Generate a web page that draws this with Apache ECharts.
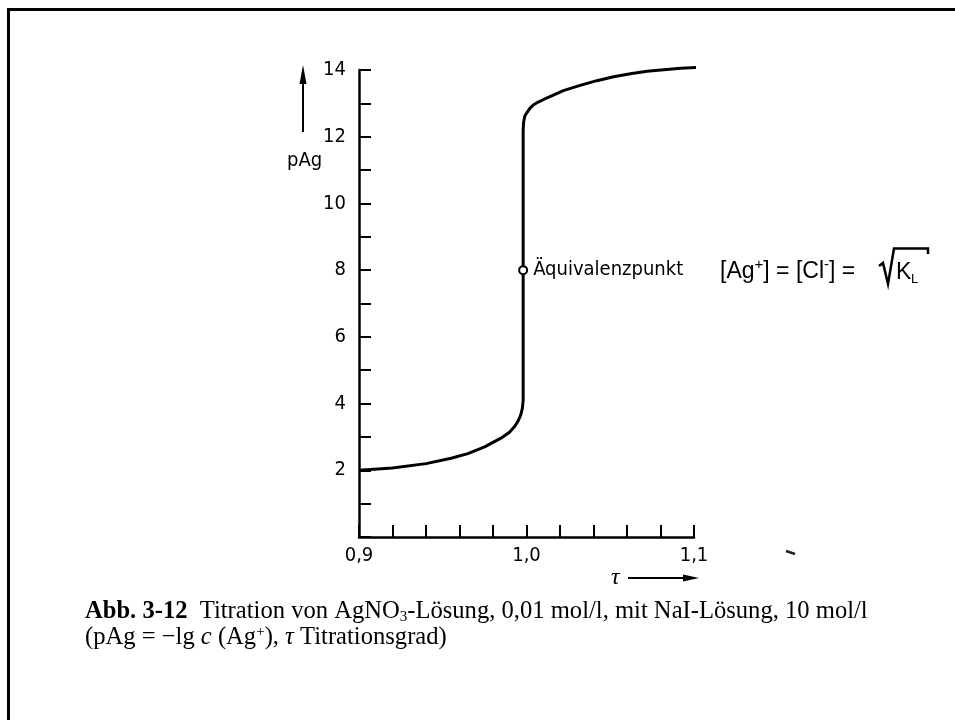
<!DOCTYPE html>
<html>
<head>
<meta charset="utf-8">
<script src="https://cdn.jsdelivr.net/npm/echarts@6/dist/echarts.min.js"></script>
<style>
html, body { margin: 0; padding: 0; background: #fff; }
#chart { width: 955px; height: 720px; }
</style>
</head>
<body>
<div id="chart"></div>
<script>
// Titrationskurve
var tau = [0.900, 0.920, 0.940, 0.955, 0.965, 0.975, 0.985, 0.990, 0.993, 0.995, 0.9965, 0.9975, 0.998,
  0.998, 0.9983, 0.999, 1.0005, 1.002, 1.004, 1.007, 1.012, 1.022, 1.032, 1.042, 1.052, 1.062, 1.072, 1.082, 1.092, 1.108];
var pAg = [2.00, 2.07, 2.20, 2.36, 2.50, 2.70, 2.97, 3.15, 3.32, 3.48, 3.65, 3.85, 4.10,
  12.20, 12.45, 12.62, 12.74, 12.85, 12.95, 13.04, 13.16, 13.38, 13.54, 13.68, 13.80, 13.89, 13.96, 14.01, 14.05, 14.09];

var eqTau = [0.998];
var eqPAg = [8];
var eqName = 'Äquivalenzpunkt';

var xLabelValues = [0.9, 1.0, 1.1];
var xLabelTexts = ['0,9', '1,0', '1,1'];
var yLabelValues = [2, 4, 6, 8, 10, 12, 14];

var scanFont = "'DejaVu Sans Condensed', 'DejaVu Sans', sans-serif";
var ink = '#000';

var myChart = echarts.init(document.getElementById('chart'));

var option = {
  backgroundColor: '#fff',
  animation: false,
  grid: {
    left: 359,
    right: 261,
    top: 70,
    bottom: 183
  },
  xAxis: {
    type: 'value',
    min: 0.9,
    max: 1.1,
    interval: 0.02,
    splitLine: { show: false },
    axisLine: { lineStyle: { color: ink, width: 2.5 } },
    axisTick: { inside: true, length: 12, lineStyle: { color: ink, width: 2 } },
    axisLabel: {
      margin: 9,
      color: ink,
      fontFamily: scanFont,
      fontSize: 20,
      formatter: function (v) {
        for (var i = 0; i < xLabelValues.length; i++) {
          if (Math.abs(v - xLabelValues[i]) < 1e-6) return xLabelTexts[i];
        }
        return '';
      }
    }
  },
  yAxis: {
    type: 'value',
    min: 0,
    max: 14,
    interval: 1,
    splitLine: { show: false },
    axisLine: { lineStyle: { color: ink, width: 2.5 } },
    axisTick: { inside: true, length: 12, lineStyle: { color: ink, width: 2 } },
    axisLabel: {
      margin: 13,
      color: ink,
      fontFamily: scanFont,
      fontSize: 20,
      formatter: function (v) {
        return yLabelValues.indexOf(Math.round(v)) >= 0 ? String(Math.round(v)) : '';
      }
    }
  },
  series: [
    {
      type: 'line',
      data: tau.map(function (t, i) { return [t, pAg[i]]; }),
      symbol: 'none',
      clip: false,
      lineStyle: { color: ink, width: 3 }
    },
    {
      type: 'scatter',
      data: eqTau.map(function (t, i) { return [t, eqPAg[i]]; }),
      symbol: 'circle',
      symbolSize: 8,
      z: 5,
      itemStyle: { color: '#fff', borderColor: ink, borderWidth: 2, opacity: 1 },
      label: {
        show: true,
        position: 'right',
        distance: 5,
        formatter: eqName,
        color: ink,
        fontFamily: scanFont,
        fontSize: 20
      }
    }
  ],
  graphic: [
    // Rahmen
    { type: 'line', shape: { x1: 7, y1: 9.5, x2: 955, y2: 9.5 }, style: { stroke: '#000', lineWidth: 3 } },
    { type: 'line', shape: { x1: 8.5, y1: 8, x2: 8.5, y2: 720 }, style: { stroke: '#000', lineWidth: 3 } },
    // pAg Pfeil
    { type: 'line', shape: { x1: 303, y1: 132, x2: 303, y2: 80 }, style: { stroke: ink, lineWidth: 2 } },
    { type: 'polygon', shape: { points: [[303, 65], [299.5, 84], [306.5, 84]] }, style: { fill: ink } },
    { type: 'text', x: 287, y: 151, style: { text: 'pAg', fill: ink, font: '20px ' + scanFont } },
    // tau Pfeil
    { type: 'text', x: 611, y: 566, style: { text: 'τ', fill: ink, font: 'italic 24px "Liberation Serif", serif' } },
    { type: 'line', shape: { x1: 628, y1: 578, x2: 686, y2: 578 }, style: { stroke: ink, lineWidth: 2 } },
    { type: 'polygon', shape: { points: [[699, 578], [683, 574.5], [683, 581.5]] }, style: { fill: ink } },
    // Formel
    {
      type: 'text', x: 720, y: 257,
      style: {
        text: '{n|[Ag}{s|+}{n|] = [Cl}{s|-}{n|] = }',
        fill: '#000',
        rich: {
          n: { fontFamily: "'Liberation Sans', Arial, sans-serif", fontSize: 23, lineHeight: 26, verticalAlign: 'bottom' },
          s: { fontFamily: "'Liberation Sans', Arial, sans-serif", fontSize: 15, lineHeight: 26, verticalAlign: 'top' }
        }
      }
    },
    { type: 'polyline', shape: { points: [[879, 266], [883, 263], [888, 284], [894, 248.5], [928, 248.5], [928, 254]] }, style: { stroke: '#000', lineWidth: 2.5, fill: null } },
    { type: 'text', x: 896, y: 261, style: { text: 'K', fill: '#000', font: '23px "Liberation Sans", Arial, sans-serif' } },
    { type: 'text', x: 911, y: 273, style: { text: 'L', fill: '#000', font: '13px "Liberation Sans", Arial, sans-serif' } },
    // Bildunterschrift
    {
      type: 'text', x: 85, y: 599,
      style: {
        text: '{b|Abb. 3-12}{n|  Titration von AgNO}{sub|3}{n|-Lösung, 0,01 mol/l, mit NaI-Lösung, 10 mol/l}',
        fill: '#000',
        rich: {
          b: { fontFamily: "'Liberation Serif', serif", fontSize: 24.6, fontWeight: 'bold', lineHeight: 26 },
          n: { fontFamily: "'Liberation Serif', serif", fontSize: 24.6, lineHeight: 26 },
          sub: { fontFamily: "'Liberation Serif', serif", fontSize: 15, lineHeight: 26, verticalAlign: 'bottom' }
        }
      }
    },
    {
      type: 'text', x: 85, y: 625,
      style: {
        text: '{n|(pAg = −lg }{i|c}{n| (Ag}{s|+}{n|), }{i|τ}{n| Titrationsgrad)}',
        fill: '#000',
        rich: {
          n: { fontFamily: "'Liberation Serif', serif", fontSize: 24.6, lineHeight: 26 },
          i: { fontFamily: "'Liberation Serif', serif", fontSize: 24.6, fontStyle: 'italic', lineHeight: 26 },
          s: { fontFamily: "'Liberation Serif', serif", fontSize: 15, lineHeight: 26, verticalAlign: 'top' }
        }
      }
    },
    // Scan-Fleck
    { type: 'line', shape: { x1: 786, y1: 551, x2: 795, y2: 554 }, style: { stroke: '#222', lineWidth: 2.5 } }
  ]
};

myChart.setOption(option);
</script>
</body>
</html>
